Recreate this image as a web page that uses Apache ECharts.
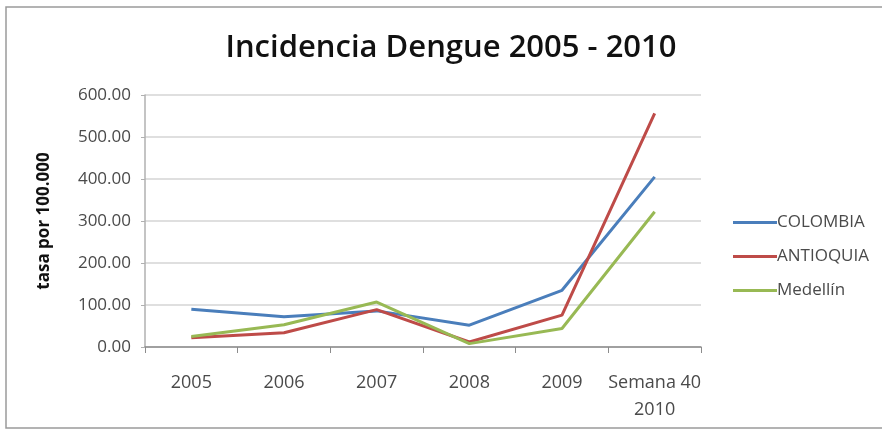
<!DOCTYPE html>
<html>
<head>
<meta charset="utf-8">
<script src="https://cdn.jsdelivr.net/npm/echarts@6/dist/echarts.min.js"></script>
<style>
  html, body { margin: 0; padding: 0; background: #ffffff; }
  #chart { width: 882px; height: 435px; }
</style>
</head>
<body>
<div id="chart"></div>
<script>
// Categories along the x axis
const years = ['2005', '2006', '2007', '2008', '2009', 'Semana 40\n2010'];

// Incidence rate per 100,000 inhabitants
const colombia  = [90, 72, 86, 52, 135, 405];
const antioquia = [22, 34, 89, 12, 76, 556];
const medellin  = [25, 53, 107, 8, 44, 322];

// Y axis range
const yMin = 0, yMax = 600, yStep = 100;

const chart = echarts.init(document.getElementById('chart'));

const baseFont = '"Open Sans", "Noto Sans", sans-serif';
const labelColor = '#4a4a4a';

function lineSeries(name, data, color) {
  return {
    name: name,
    type: 'line',
    data: data,
    symbol: 'none',
    smooth: false,
    lineStyle: { color: color, width: 3 },
    itemStyle: { color: color }
  };
}

chart.setOption({
  backgroundColor: '#ffffff',
  animation: false,
  title: {
    text: 'Incidencia Dengue 2005 - 2010',
    left: 446,
    top: 28,
    textAlign: 'center',
    textStyle: {
      fontFamily: baseFont,
      fontSize: 31,
      fontWeight: 600,
      color: '#111111'
    }
  },
  graphic: [{
    type: 'rect',
    shape: { x: 6, y: 7, width: 890, height: 421 },
    style: { fill: 'none', stroke: '#9a9a9a', lineWidth: 1.5 },
    silent: true
  }],
  legend: {
    orient: 'vertical',
    left: 728,
    top: 209,
    itemGap: 17,
    itemWidth: 44,
    itemHeight: 3,
    icon: 'rect',
    textStyle: { fontFamily: baseFont, fontSize: 17, color: labelColor, padding: [0, 0, 0, -5] },
    data: ['COLOMBIA', 'ANTIOQUIA', 'Medellín']
  },
  grid: {
    left: 145,
    top: 95,
    width: 556,
    height: 252,
    containLabel: false
  },
  xAxis: {
    type: 'category',
    data: years,
    boundaryGap: true,
    axisLine: { lineStyle: { color: '#8c8c8c', width: 1.5 } },
    axisTick: { show: true, alignWithLabel: false, interval: 0, length: 6, lineStyle: { color: '#8c8c8c' } },
    axisLabel: {
      interval: 0,
      fontFamily: baseFont,
      fontSize: 18,
      color: labelColor,
      margin: 22,
      lineHeight: 27
    }
  },
  yAxis: {
    type: 'value',
    min: yMin,
    max: yMax,
    interval: yStep,
    name: 'tasa por 100.000',
    nameLocation: 'middle',
    nameGap: 92,
    nameRotate: 90,
    nameTextStyle: {
      fontFamily: baseFont,
      fontSize: 17,
      fontWeight: 'bold',
      color: '#111111'
    },
    axisLine: { show: true, lineStyle: { color: '#b0b0b0', width: 1.5 } },
    axisTick: { show: true, length: 4, lineStyle: { color: '#b0b0b0' } },
    axisLabel: {
      fontFamily: baseFont,
      fontSize: 17,
      color: labelColor,
      margin: 14,
      formatter: v => v.toFixed(2)
    },
    splitLine: { show: true, lineStyle: { color: '#d4d4d4', width: 1.5 } }
  },
  series: [
    lineSeries('COLOMBIA', colombia, '#4a7ebb'),
    lineSeries('ANTIOQUIA', antioquia, '#be4b48'),
    lineSeries('Medellín', medellin, '#98b954')
  ]
});
</script>
</body>
</html>
